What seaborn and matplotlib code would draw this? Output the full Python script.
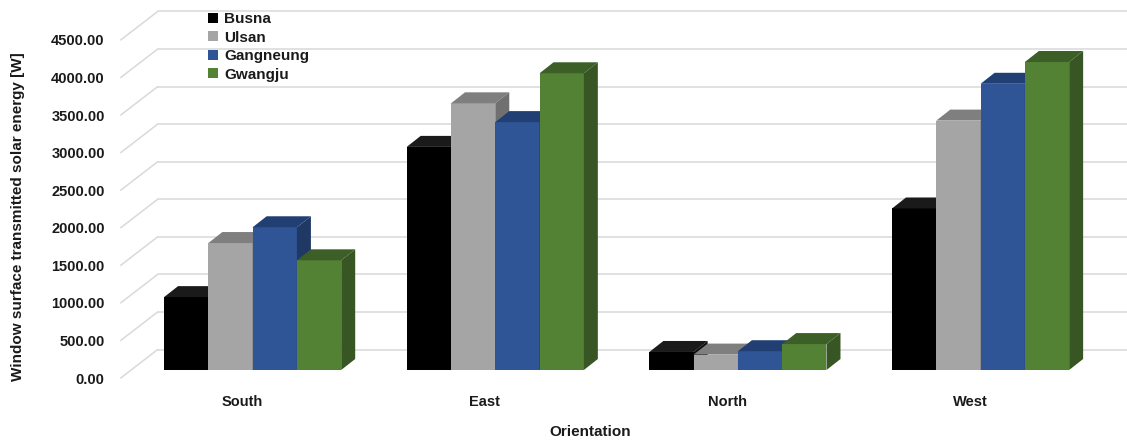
import numpy as np
import pandas as pd
import matplotlib
matplotlib.use("Agg")
import matplotlib.pyplot as plt
import seaborn as sns
from matplotlib.patches import Polygon, Patch
from matplotlib.transforms import ScaledTranslation

# ---------------- data ----------------
orientations = ["South", "East", "North", "West"]
cities = ["Busna", "Ulsan", "Gangneung", "Gwangju"]
busna = [970, 2970, 240, 2150]
ulsan = [1690, 3550, 205, 3320]
gangneung = [1900, 3300, 250, 3810]
gwangju = [1460, 3950, 345, 4100]
yticks = [0, 500, 1000, 1500, 2000, 2500, 3000, 3500, 4000, 4500]

front_colors = ["#000000", "#a5a5a5", "#2f5597", "#548235"]
top_colors = ["#1a1a1a", "#7f7f7f", "#213f72", "#3b5f26"]
side_colors = ["#0d0d0d", "#707070", "#1f3864", "#375623"]

values = {"Busna": busna, "Ulsan": ulsan, "Gangneung": gangneung, "Gwangju": gwangju}
df = pd.DataFrame([
    {"Orientation": o, "City": c, "Energy": values[c][i]}
    for c in cities for i, o in enumerate(orientations)
])

# ---------------- style ----------------
sns.set_theme(style="white")
plt.rcParams["font.family"] = ["Liberation Sans", "DejaVu Sans"]
plt.rcParams["font.weight"] = "bold"

W, H = 1127, 440
fig = plt.figure(figsize=(W / 100, H / 100), dpi=100)
ax_left, ax_right = 120.7, 1091.3
ax_bottom_px, ax_top_px = 378.0, 2.4
ax = fig.add_axes([ax_left / W, (H - ax_bottom_px) / H,
                   (ax_right - ax_left) / W, (ax_bottom_px - ax_top_px) / H])
ax.set_xlim(-0.5, 3.5)
ax.set_ylim(0, 5000)

pxx = (ax_right - ax_left) / 4.0          # pixels per x unit
pxy = (ax_bottom_px - ax_top_px) / 5000.0  # pixels per W


def dx(p):
    return p / pxx


def dy(p):
    return p / pxy


# back wall grid + diagonal floor lines
grid_c = "#d9d9d9"
back_dx, back_dy = 37, 28.5
for v in yticks:
    yb = v + dy(back_dy)
    ax.plot([-0.5 + dx(back_dx), 3.5 + dx(back_dx) + dx(5)], [yb, yb],
            color=grid_c, lw=1.1, clip_on=False, zorder=0.5)
    ax.plot([-0.5, -0.5 + dx(back_dx)], [v, yb],
            color=grid_c, lw=1.1, clip_on=False, zorder=0.5)

# bars
sns.barplot(data=df, x="Orientation", y="Energy", hue="City",
            hue_order=cities, order=orientations, palette=front_colors,
            saturation=1, width=0.73, linewidth=0, errorbar=None,
            legend=False, ax=ax)

offset = ax.transData + ScaledTranslation(10.6 / 100, 8 / 100, fig.dpi_scale_trans)
ddx, ddy = dx(14), dy(11)

bars = [p for p in ax.patches]
for idx, p in enumerate(bars):
    k = idx // len(orientations)
    p.set_transform(offset)
    p.set_zorder(2 + k)
    x0 = p.get_x()
    x1 = x0 + p.get_width()
    h = p.get_height()
    top = Polygon([(x0, h), (x1, h), (x1 + ddx, h + ddy), (x0 + ddx, h + ddy)],
                  closed=True, facecolor=top_colors[k], edgecolor="none",
                  transform=offset, zorder=2.5 + k)
    side = Polygon([(x1, 0), (x1, h), (x1 + ddx, h + ddy), (x1 + ddx, ddy)],
                   closed=True, facecolor=side_colors[k], edgecolor="none",
                   transform=offset, zorder=2.5 + k)
    ax.add_patch(top)
    ax.add_patch(side)

# axes styling
for s in ax.spines.values():
    s.set_visible(False)
ax.grid(False)
ax.set_yticks(yticks)
ax.set_yticklabels([f"{v:.2f}" for v in yticks])
ax.tick_params(axis="y", length=0, pad=11.5, labelsize=10.5, colors="#1a1a1a")
ax.tick_params(axis="x", length=0, pad=12, labelsize=10.5, colors="#1a1a1a")
for t in ax.get_xticklabels() + ax.get_yticklabels():
    t.set_fontweight("bold")

ax.set_xlabel("Orientation", fontsize=11, fontweight="bold", color="#1a1a1a")
ax.xaxis.set_label_coords((590 - ax_left) / (ax_right - ax_left),
                          (ax_bottom_px - 432) / (ax_bottom_px - ax_top_px))
ax.xaxis.label.set_va("center")
ax.set_ylabel("Window surface transmitted solar energy [W]", fontsize=11,
              fontweight="bold", color="#1a1a1a")
ax.yaxis.set_label_coords((18 - ax_left) / (ax_right - ax_left),
                          (ax_bottom_px - 217) / (ax_bottom_px - ax_top_px))
ax.yaxis.label.set_va("center")

handles = [Patch(facecolor=c, edgecolor="none") for c in front_colors]
leg = ax.legend(handles, cities, loc="upper left",
                bbox_to_anchor=(208 / W, 1 - 12 / H), bbox_transform=fig.transFigure,
                frameon=False, handlelength=0.65, handleheight=0.65,
                handletextpad=0.4, labelspacing=0.3, borderpad=0, borderaxespad=0,
                prop={"size": 11, "weight": "bold"})
for t in leg.get_texts():
    t.set_color("#1a1a1a")
leg.set_zorder(10)

fig.savefig("out.png", dpi=100)
